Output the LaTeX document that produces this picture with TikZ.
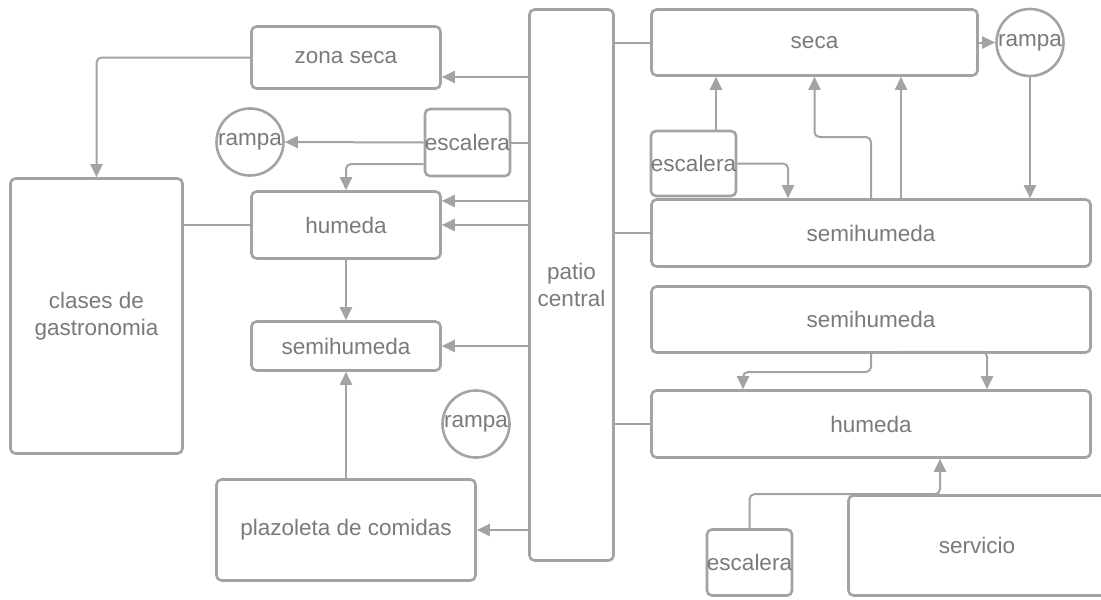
\documentclass[tikz,border=0pt]{standalone}
\usepackage{fontspec}
\setmainfont{Liberation Sans}
\usetikzlibrary{arrows.meta,calc}
\definecolor{lc}{RGB}{163,163,163}
\definecolor{tc}{RGB}{122,122,122}
\begin{document}
\begin{tikzpicture}[x=1pt,y=-1pt,
  box/.style={draw=lc,line width=2.6pt,rounded corners=5pt,inner sep=0pt,
    text=tc,font=\fontsize{22.5}{27}\selectfont,align=center},
  circ/.style={draw=lc,line width=2.6pt,circle,inner sep=0pt,minimum size=67pt,
    text=tc,font=\fontsize{22.5}{27}\selectfont},
  conn/.style={draw=lc,line width=2pt,rounded corners=5pt,-{Triangle[length=13pt,width=12pt]}},
  link/.style={draw=lc,line width=2pt,rounded corners=5pt}]
\clip (0,0) rectangle (1101,600);
\fill[white] (0,0) rectangle (1101,600);
% left side
\node[box,minimum width=189pt,minimum height=62pt] (zs) at (346,57.5) {zona seca};
\node[circ] (rl) at (250,142) {rampa};
\node[box,minimum width=84pt,minimum height=67pt] (el) at (467.5,142.5) {escalera};
\node[box,minimum width=189pt,minimum height=67pt] (hl) at (346,225) {humeda};
\node[box,minimum width=172pt,minimum height=275pt] (cg) at (96.5,316) {clases de\\gastronomia};
\node[box,minimum width=189pt,minimum height=49pt] (sl) at (346,346) {semihumeda};
\node[circ] (rm) at (476,424) {rampa};
\node[box,minimum width=259pt,minimum height=101pt] (pc) at (346,530) {plazoleta de comidas};
% centre
\node[box,minimum width=84pt,minimum height=551pt] (pa) at (571.5,285) {patio\\central};
% right side
\node[box,minimum width=326pt,minimum height=66pt] (sr) at (814.5,42.5) {seca};
\node[circ] (rr) at (1030,42.5) {rampa};
\node[box,minimum width=84pt,minimum height=65pt] (er) at (693.5,163.5) {escalera};
\node[box,minimum width=439pt,minimum height=67pt] (s1) at (871,233) {semihumeda};
\node[box,minimum width=439pt,minimum height=66pt] (s2) at (871,319.5) {semihumeda};
\node[box,minimum width=439pt,minimum height=67pt] (hr) at (871,424) {humeda};
\node[box,minimum width=84pt,minimum height=66pt] (eb) at (749.5,562.5) {escalera};
\node[box,minimum width=257pt,minimum height=100pt] (sv) at (977,545.5) {servicio};
% connectors left
\draw[conn] (zs.west) -| (cg.north);
\draw[conn] (pa.west |- 0,77) -- (zs.east |- 0,77);
\draw[conn] (el.west) -- (rl.east);
\draw[link] (el.east) -- (pa.west |- el.east);
\draw[conn] (el.west |- 0,164) -| (hl.north);
\draw[conn] (pa.west |- 0,201) -- (hl.east |- 0,201);
\draw[conn] (pa.west |- hl.east) -- (hl.east);
\draw[link] (hl.west) -- (cg.east |- hl.west);
\draw[conn] (hl.south) -- (sl.north);
\draw[conn] (pa.west |- sl.east) -- (sl.east);
\draw[conn] (pc.north) -- (sl.south);
\draw[conn] (pa.west |- pc.east) -- (pc.east);
% connectors right
\draw[link] (pa.east |- sr.west) -- (sr.west);
\draw[link] (pa.east |- s1.west) -- (s1.west);
\draw[link] (pa.east |- hr.west) -- (hr.west);
\draw[conn] (sr.east) -- (rr.west);
\draw[conn] (rr.south) -- (rr.south |- s1.north);
\draw[conn] ([xshift=22.5pt]er.north) -- ([xshift=22.5pt]er.north |- sr.south);
\draw[conn] (s1.north) -- (s1.north |- 0,137) -| (sr.south);
\draw[conn] ([xshift=30pt]s1.north) -- ([xshift=30pt]s1.north |- sr.south);
\draw[conn] (er.east) -| ([xshift=-83pt]s1.north);
\draw[conn] (s2.south) -- (s2.south |- 0,372) -| ([xshift=-128pt]hr.north);
\draw[conn] ([xshift=30pt,yshift=2pt]s2.south) -| ([xshift=116pt]hr.north);
\draw[conn] (eb.north) -- (eb.north |- sv.north) -| ([xshift=69pt]hr.south);
\end{tikzpicture}
\end{document}
